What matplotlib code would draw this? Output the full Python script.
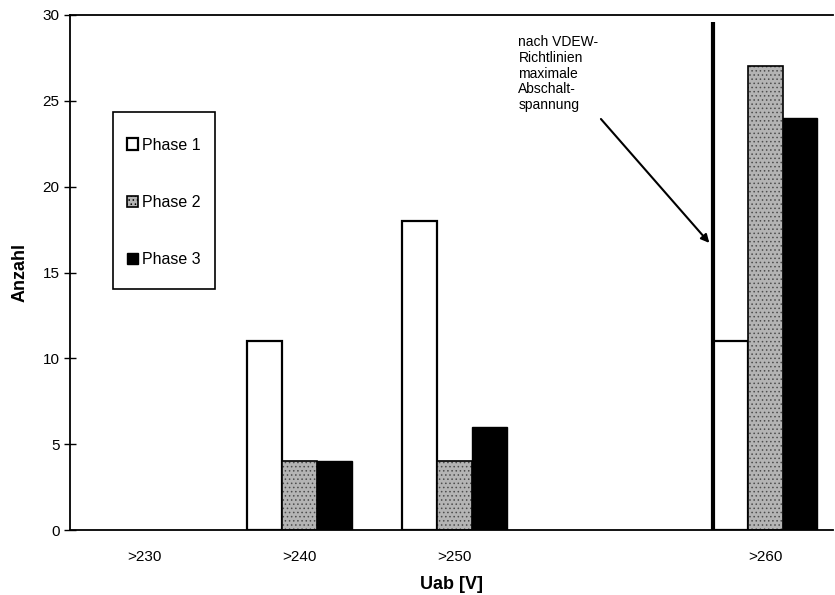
import matplotlib
matplotlib.use("Agg")
import matplotlib.pyplot as plt
from matplotlib.patches import Patch, Rectangle
import numpy as np

plt.rcParams["font.family"] = ["Liberation Sans", "DejaVu Sans"]
plt.rcParams["hatch.linewidth"] = 0.6

# data
categories = [">230", ">240", ">250", ">260"]
cat_pos = [0, 1, 2, 4]          # the chart leaves one empty slot before >260
phase1 = [0, 11, 18, 11]
phase2 = [0, 4, 4, 27]
phase3 = [0, 4, 6, 24]
series_names = ["Phase 1", "Phase 2", "Phase 3"]
note = "nach VDEW-\nRichtlinien\nmaximale\nAbschalt-\nspannung"

fig = plt.figure(figsize=(8.35, 5.95), dpi=100)
ax = fig.add_axes([0.084, 0.109, 0.914, 0.866])

x = np.array(cat_pos, dtype=float)
w = 0.225
styles = [
    dict(facecolor="white", edgecolor="black", linewidth=1.6),
    dict(facecolor="#b4b4b4", edgecolor="black", linewidth=1.2, hatch="...."),
    dict(facecolor="black", edgecolor="black", linewidth=1.0),
]
for i, vals in enumerate([phase1, phase2, phase3]):
    bars = ax.bar(x + (i - 1) * w, vals, w, **styles[i])
    for p in bars:
        if i == 1:
            p._hatch_color = (0.3, 0.3, 0.3, 1.0)
        if p.get_height() == 0:
            p.set_visible(False)

# VDEW limit line at the left edge of the >260 group
lim_x = cat_pos[3] - 1.5 * w
ax.plot([lim_x, lim_x], [0, 29.6], color="black", linewidth=3, solid_capstyle="butt")
ax.text(2.41, 28.8, note, fontsize=10, ha="left", va="top", linespacing=1.15)
ax.annotate("", xy=(lim_x - 0.01, 16.6), xytext=(2.93, 24.06),
            arrowprops=dict(arrowstyle="-|>", color="black", lw=1.5, mutation_scale=12))

ax.set_xlim(-0.48, 4.44)
ax.set_ylim(0, 30)
ax.set_xticks(cat_pos)
ax.set_xticklabels(categories, fontsize=11)
ax.tick_params(axis="x", length=0, pad=14)
ax.set_yticks(np.arange(0, 31, 5))
ax.tick_params(axis="y", direction="inout", length=8, width=1, labelsize=11)
ax.spines["right"].set_visible(False)
for s in ("left", "bottom", "top"):
    ax.spines[s].set_linewidth(1.3)

ax.set_xlabel("Uab [V]", fontsize=13, fontweight="bold", labelpad=9)
ax.set_ylabel("Anzahl", fontsize=13, fontweight="bold", labelpad=10)

# legend box drawn separately (narrow, tall frame as in the original)
ax.add_patch(Rectangle((0.0562, 0.468), 0.1333, 0.3437, transform=ax.transAxes,
                       facecolor="white", edgecolor="black", linewidth=1.2, zorder=4))
handles = [Patch(**styles[0]), Patch(**styles[1]), Patch(**styles[2])]
leg = ax.legend(handles, series_names, loc="center left", bbox_to_anchor=(0.0745, 0.636),
                fontsize=11.5, frameon=False, labelspacing=2.65,
                handlelength=0.7, handleheight=0.7, handletextpad=0.25,
                borderpad=0, borderaxespad=0)
leg.set_zorder(5)

fig.savefig("out.png", dpi=100)
